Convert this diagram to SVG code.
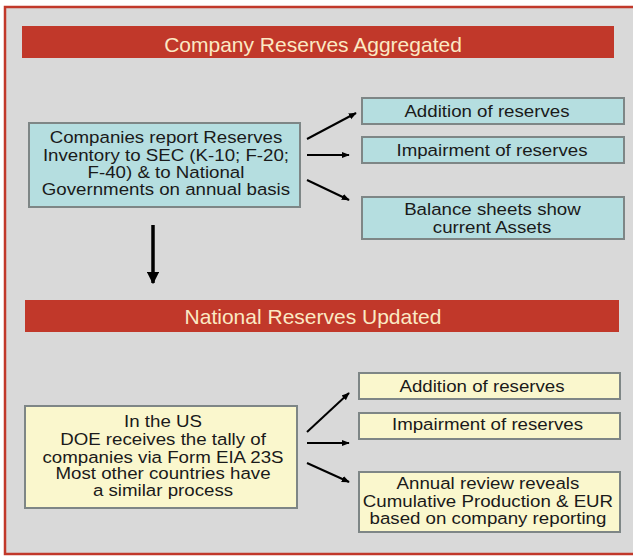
<svg xmlns="http://www.w3.org/2000/svg" width="633" height="556" viewBox="0 0 633 556">
<style>
.bar{fill:#c1382a}
.bart{fill:#fbe9c4;font-family:"Liberation Sans",Arial,sans-serif;font-size:21px;text-anchor:middle}
.cy{fill:#b5dee0;stroke:#7e8686;stroke-width:2}
.ye{fill:#faf7cd;stroke:#7e8686;stroke-width:2}
.t{fill:#1a1a1a;font-family:"Liberation Sans",Arial,sans-serif;font-size:17px;text-anchor:middle}
.c{stroke:#000;stroke-width:2;fill:none;marker-end:url(#ah)}
</style>
<defs>
<marker id="ah" viewBox="0 0 10 10" refX="9" refY="5" markerWidth="4" markerHeight="4" orient="auto" markerUnits="strokeWidth">
<path d="M0,1 L10,5 L0,9 z" fill="#000"/>
</marker>
<marker id="ah2" viewBox="0 0 10 10" refX="9" refY="5" markerWidth="3.5" markerHeight="3.5" orient="auto" markerUnits="strokeWidth">
<path d="M0,0 L10,5 L0,10 z" fill="#000"/>
</marker>
</defs>
<rect x="0" y="0" width="633" height="556" fill="#fff"/>
<rect x="5" y="7" width="640" height="547" fill="#d9d9d9" stroke="#c1382a" stroke-width="2.5"/>

<g id="title1">
<rect class="bar" x="22" y="26" width="592" height="32"/>
<text class="bart" x="313" y="52">Company Reserves Aggregated</text>
</g>

<g id="companies">
<rect class="cy" x="29" y="123" width="271" height="84"/>
<text class="t" transform="scale(1.1 1)"><tspan x="150.9" y="143">Companies report Reserves</tspan><tspan x="150.9" y="161">Inventory to SEC (K-10; F-20;</tspan><tspan x="150.9" y="178">F-40) &amp; to National</tspan><tspan x="150.9" y="195">Governments on annual basis</tspan></text>
</g>

<g id="addition1">
<rect class="cy" x="362" y="98" width="262" height="26"/>
<text class="t" transform="scale(1.1 1)" x="442.7" y="117">Addition of reserves</text>
</g>
<g id="impairment1">
<rect class="cy" x="362" y="137" width="262" height="26"/>
<text class="t" transform="scale(1.1 1)" x="447.3" y="156">Impairment of reserves</text>
</g>
<g id="balance">
<rect class="cy" x="362" y="197" width="262" height="42"/>
<text class="t" transform="scale(1.1 1)"><tspan x="447.7" y="215">Balance sheets show</tspan><tspan x="447.3" y="233">current Assets</tspan></text>
</g>

<g id="title2">
<rect class="bar" x="25" y="300" width="594" height="32"/>
<text class="bart" x="313" y="324">National Reserves Updated</text>
</g>

<g id="national">
<rect class="ye" x="25" y="406" width="272" height="102"/>
<text class="t" transform="scale(1.1 1)"><tspan x="148.2" y="427">In the US</tspan><tspan x="148.2" y="445">DOE receives the tally of</tspan><tspan x="148.2" y="463">companies via Form EIA 23S</tspan><tspan x="148.2" y="479">Most other countries have</tspan><tspan x="148.2" y="496">a similar process</tspan></text>
</g>

<g id="addition2">
<rect class="ye" x="359" y="373" width="261" height="26"/>
<text class="t" transform="scale(1.1 1)" x="438.2" y="392">Addition of reserves</text>
</g>
<g id="impairment2">
<rect class="ye" x="359" y="413" width="261" height="26"/>
<text class="t" transform="scale(1.1 1)" x="443.2" y="430">Impairment of reserves</text>
</g>
<g id="annual">
<rect class="ye" x="359" y="472" width="261" height="60"/>
<text class="t" transform="scale(1.1 1)"><tspan x="443.6" y="489">Annual review reveals</tspan><tspan x="443.6" y="507">Cumulative Production &amp; EUR</tspan><tspan x="443.6" y="524">based on company reporting</tspan></text>
</g>

<g id="connectors">
<line class="c" x1="307" y1="139" x2="356" y2="113"/>
<line class="c" x1="307" y1="155" x2="349" y2="155"/>
<line class="c" x1="307" y1="180" x2="349" y2="200"/>
<line x1="153" y1="225" x2="153" y2="283" stroke="#000" stroke-width="3.5" marker-end="url(#ah2)"/>
<line class="c" x1="307" y1="432" x2="349" y2="393"/>
<line class="c" x1="307" y1="443" x2="349" y2="443"/>
<line class="c" x1="307" y1="463" x2="349" y2="482"/>
</g>
</svg>
